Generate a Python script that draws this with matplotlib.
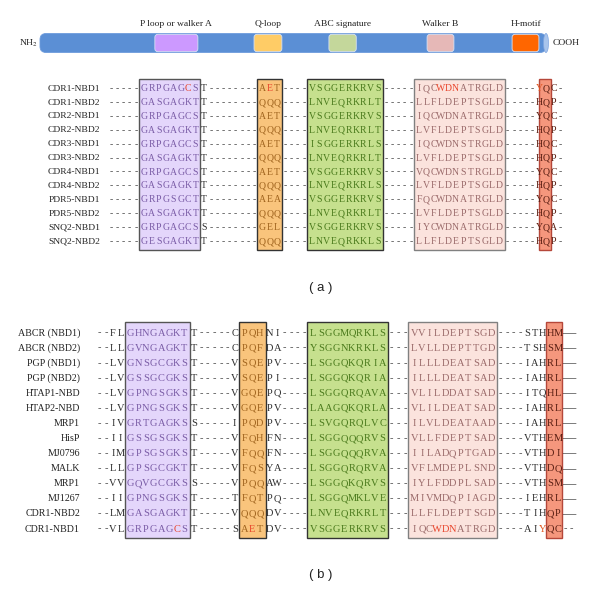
import matplotlib.pyplot as plt
from matplotlib.patches import FancyBboxPatch, Ellipse, Rectangle

plt.rcParams['font.family'] = ['Liberation Serif', 'DejaVu Serif']
plt.rcParams['mathtext.fontset'] = 'stix'

# NBD schematic: motif positions in % of the bar length
motif_names = ["P loop or walker A", "Q-loop", "ABC signature", "Walker B", "H-motif"]
motif_start = [22.7, 42.3, 57.1, 76.5, 93.3]
motif_end = [31.2, 47.8, 62.5, 81.8, 98.6]
motif_bar_colors = ["#cc99ff", "#ffcc66", "#c4d79b", "#e6b8b7", "#ff6600"]

# panel (a): yeast NBDs
names_a = ["CDR1-NBD1", "CDR1-NBD2", "CDR2-NBD1", "CDR2-NBD2", "CDR3-NBD1", "CDR3-NBD2",
           "CDR4-NBD1", "CDR4-NBD2", "PDR5-NBD1", "PDR5-NBD2", "SNQ2-NBD1", "SNQ2-NBD2"]
seqs_a = [
    "-----GRPGAGCST--------AET----VSGGERKRVS-----IQCWDNATRGLD-----YQC-",
    "-----GASGAGKTT--------QQQ----LNVEQRKRLT-----LLFLDEPTSGLD-----HQP-",
    "-----GRPGAGCST--------AET----VSGGERKRVS-----IQCWDNATRGLD-----YQC-",
    "-----GASGAGKTT--------QQQ----LNVEQRKRLT-----LVFLDEPTSGLD-----HQP-",
    "-----GRPGAGCST--------AET----ISGGERKRLS-----IQCWDNSTRGLD-----HQC-",
    "-----GASGAGKTT--------QQQ----LNVEQRKRLT-----LVFLDEPTSGLD-----HQP-",
    "-----GRPGAGCST--------AET----VSGGERKRVS-----VQCWDNSTRGLD-----YQC-",
    "-----GASGAGKTT--------QQQ----LNVEQRKRLS-----LVFLDEPTSGLD-----HQP-",
    "-----GRPGSGCTT--------AEA----VSGGERKRVS-----FQCWDNATRGLD-----YQC-",
    "-----GASGAGKTT--------QQQ----LNVEQRKRLT-----LVFLDEPTSGLD-----HQP-",
    "-----GRPGAGCSS--------GEL----VSGGERKRVS-----IYCWDNATRGLD-----YQA-",
    "-----GESGAGKTT--------QQQ----LNVEQRKKLS-----LLFLDEPTSGLD-----HQP-",
]
# motif boxes as alignment column spans (start, end, padded)
boxes_a = [(5, 13, True), (22, 25, True), (29, 39, True), (44, 56, True), (61.4, 63.1, False)]
hl_rows_a = [0, 0, 0, 0, 0, 0]
hl_cols_a = [11, 23, 47, 48, 49, 61]

# panel (b): NBDs of other ABC proteins
names_b = ["ABCR (NBD1)", "ABCR (NBD2)", "PGP (NBD1)", "PGP (NBD2)", "HTAP1-NBD", "HTAP2-NBD",
           "MRP1", "HisP", "MJ0796", "MALK", "MRP1", "MJ1267", "CDR1-NBD2", "CDR1-NBD1"]
seqs_b = [
    "--FLGHNGAGKTT-----CPQHNI----LSGGMQRKLS---VVILDEPTSGD----STHHM—",
    "--LLGVNGAGKTT-----CPQFDA----YSGGNKRKLS---LVLLDEPTTGD----TSHSM—",
    "--LVGNSGCGKST-----VSQEPV----LSGGQKQRIA---ILLLDEATSAD----IAHRL—",
    "--LVGSSGCGKST-----VSQEPI----LSGGQKQRIA---ILLLDEATSAD----IAHRL—",
    "--LVGPNGSGKST-----VGQEPQ----LSGGQRQAVA---VLILDDATSAD----ITQHL—",
    "--LVGPNGSGKST-----VGQEPV----LAAGQKQRLA---VLILDEATSAD----IAHRL—",
    "--IVGRTGAGKSS-----IPQDPV----LSVGQRQLVC---ILVLDEATAAD----IAHRL—",
    "--IIGSSGSGKST-----VFQHFN----LSGGQQQRVS---VLLFDEPTSAD----VTHEM—",
    "--IMGPSGSGKST-----VFQQFN----LSGGQQQRVA---IILADQPTGAD----VTHDI—",
    "--LLGPSGCGKTT-----VFQSYA----LSGGQRQRVA---VFLMDEPLSND----VTHDQ—",
    "--VVGQVGCGKSS-----VPQQAW----LSGGQKQRVS---IYLFDDPLSAD----VTHSM—",
    "--IIGPNGSGKST-----TFQTPQ----LSGGQMKLVE---MIVMDQPIAGD----IEHRL—",
    "--LMGASGAGKTT-----VQQQDV----LNVEQRKRLT---LLFLDEPTSGD----TIHQP—",
    "--VLGRPGAGCST-----SAETDV----VSGGERKRVS---IQCWDNATRGD----AIYQC--",
]
boxes_b = [(4, 12, True), (19, 22, True), (28, 38, True), (41, 52, True), (59, 61, False)]
hl_rows_b = [13, 13, 13, 13, 13, 13]
hl_cols_b = [10, 20, 44, 45, 46, 58]

box_fill = ["#e4d6fb", "#f9c47c", "#c6e08e", "#fbe3dd", "#f5977d"]
box_edge = ["#555555", "#333333", "#333333", "#808080", "#b5473a"]
box_text = ["#7a5ca6", "#a0641e", "#4a7a1c", "#9a6a6a", "#5a1e12"]
hl_color = ["#e8452c", "#e8452c", "#e8452c", "#e8452c", "#e8452c", "#e0541c"]


def draw_panel(ax, names, seqs, boxes, hl_rows, hl_cols, x0, y0, dy, lw, dw, pad, fs, name_fs,
               label_x):
    ncol = max(len(s) for s in seqs)
    ref = seqs[0]
    widths = []
    for c in range(ncol):
        ch = ref[c] if c < len(ref) else "-"
        widths.append(dw if ch in "-—" else lw)
    starts = {int(b[0]) for b in boxes if b[2]}
    ends = {b[1] for b in boxes if b[2]}
    left = []
    x = x0
    for c in range(ncol):
        if c in starts:
            x += pad
        left.append(x)
        x += widths[c]
        if c + 1 in ends:
            x += pad

    def xcol(f):
        i = int(f)
        if i >= ncol:
            return left[-1] + widths[-1]
        return left[i] + (f - i) * widths[i]

    n = len(seqs)
    ytop = y0 - 0.72 * dy
    ybot = y0 + (n - 1) * dy + 0.6 * dy
    for k, (c0, c1, padded) in enumerate(boxes):
        if padded:
            xa = left[c0] - pad
            xb = left[c1 - 1] + widths[c1 - 1] + pad
        else:
            xa, xb = xcol(c0), xcol(c1)
        ax.add_patch(Rectangle((xa, ytop), xb - xa, ybot - ytop, facecolor=box_fill[k],
                               edgecolor=box_edge[k], lw=1.0, zorder=1))

    hl = {(r, c): hl_color[i] for i, (r, c) in enumerate(zip(hl_rows, hl_cols))}
    for r, (name, seq) in enumerate(zip(names, seqs)):
        y = y0 + r * dy
        ax.text(label_x, y, name, ha="right", va="center", fontsize=name_fs, color="#222222")
        for c, ch in enumerate(seq):
            col = "#2e2e2e"
            if ch == "-":
                col = "#555555"
            else:
                for k, (c0, c1, padded) in enumerate(boxes):
                    if int(c0) <= c < c1:
                        col = box_text[k]
            if (r, c) in hl:
                col = hl[(r, c)]
            if ch == "—":
                ax.text(left[c], y, ch, ha="left", va="center", fontsize=fs + 2, color="#333333",
                        zorder=3)
            else:
                ax.text(left[c] + widths[c] / 2, y, ch, ha="center", va="center", fontsize=fs,
                        color=col, zorder=3)


fig = plt.figure(figsize=(6, 5.9), dpi=100)
ax = fig.add_axes([0, 0, 1, 1])
ax.set_xlim(0, 600)
ax.set_ylim(590, 0)
ax.axis("off")

# protein bar
bar_x0, bar_x1, bar_y, bar_h = 40, 546, 43, 19
ax.add_patch(FancyBboxPatch((bar_x0, bar_y - bar_h / 2), bar_x1 - bar_x0, bar_h,
                            boxstyle="round,pad=0,rounding_size=6", facecolor="#5b8fd5",
                            edgecolor="#6d9bdc", lw=0.6, zorder=1))
ax.add_patch(Ellipse((bar_x1, bar_y), 5, bar_h, facecolor="#a8c4ec", edgecolor="#7ea5e0",
                     lw=0.5, zorder=2))
for name, s, e, c in zip(motif_names, motif_start, motif_end, motif_bar_colors):
    xa = bar_x0 + s / 100 * (bar_x1 - bar_x0)
    xb = bar_x0 + e / 100 * (bar_x1 - bar_x0)
    ax.add_patch(FancyBboxPatch((xa, bar_y - bar_h / 2 + 0.8), xb - xa, bar_h - 1.6,
                                boxstyle="round,pad=0,rounding_size=3", facecolor=c,
                                edgecolor="#d8e2f4", lw=0.6, zorder=2))
    ax.text((xa + xb) / 2, 24, name, ha="center", va="center", fontsize=6.8, color="#222222")
ax.text(38, bar_y, r"NH$_2$", ha="right", va="center", fontsize=6.8, color="#222222")
ax.text(553, bar_y, "COOH", ha="left", va="center", fontsize=6.8, color="#222222")

draw_panel(ax, names_a, seqs_a, boxes_a, hl_rows_a, hl_cols_a,
           x0=108, y0=88.7, dy=13.9, lw=7.3, dw=6.2, pad=1.5, fs=7, name_fs=6.8, label_x=100)
draw_panel(ax, names_b, seqs_b, boxes_b, hl_rows_b, hl_cols_b,
           x0=96, y0=333, dy=15.08, lw=7.7, dw=6.6, pad=2, fs=7.5, name_fs=7.2, label_x=80)

ax.text(321, 288, "( a )", ha="center", va="center", fontsize=9.5, family="Liberation Sans",
        color="#222222")
ax.text(321, 575, "( b )", ha="center", va="center", fontsize=9.5, family="Liberation Sans",
        color="#222222")

fig.savefig("out.png", dpi=100, facecolor="white")
